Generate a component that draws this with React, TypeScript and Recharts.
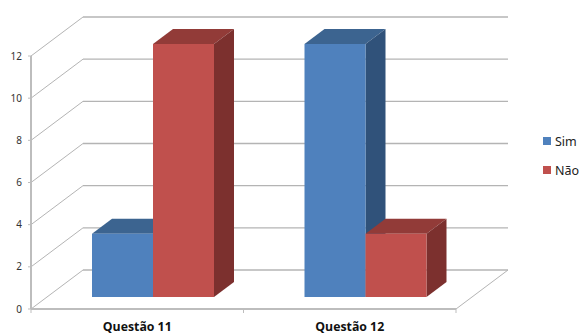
import React from "react";
import { BarChart, Bar, CartesianGrid, XAxis, YAxis, Legend } from "recharts";

const questions = ["Questão 11", "Questão 12"];
const simValues = [3, 12];
const naoValues = [12, 3];
const yTicks = [0, 2, 4, 6, 8, 10, 12];
const seriesNames = ["Sim", "Não"];

const chartWidth = 579;
const chartHeight = 336;
const legendWidth = 36;
const plot = { left: 31, right: 123, top: 56, bottom: 27 };
const bandHalf = (chartWidth - plot.left - plot.right) / questions.length / 2;

// oblique projection: back wall offset, and where the bars sit inside the floor
const wall = { dx: 52, dy: -39 };
const barPlane = { dx: 16, dy: -12 };
const barDepth = { dx: 20, dy: -15 };

const gridColor = "#b4b4b4";
const axisColor = "#bdbdbd";

const data = questions.map((name, i) => ({ name, sim: simValues[i], nao: naoValues[i] }));

const shadedBar = (front: string, top: string, side: string) => (props: any) => {
  const x = props.x + barPlane.dx;
  const y = props.y + barPlane.dy;
  const { width, height } = props;
  const { dx, dy } = barDepth;
  return (
    <g>
      <polygon
        points={`${x},${y} ${x + dx},${y + dy} ${x + width + dx},${y + dy} ${x + width},${y}`}
        fill={top}
      />
      <polygon
        points={`${x + width},${y} ${x + width + dx},${y + dy} ${x + width + dx},${y + height + dy} ${x + width},${y + height}`}
        fill={side}
      />
      <rect x={x} y={y} width={width} height={height} fill={front} />
    </g>
  );
};

const WallLine = (props: any) => {
  const { x1, x2, y1, index } = props;
  const isFloor = y1 >= chartHeight - plot.bottom - 0.5;
  return (
    <g key={`wall-${index}`}>
      <line x1={x1} y1={y1} x2={x1 + wall.dx} y2={y1 + wall.dy} stroke={gridColor} strokeWidth={1} />
      <line
        x1={x1 + wall.dx}
        y1={y1 + wall.dy}
        x2={x2 + wall.dx}
        y2={y1 + wall.dy}
        stroke={gridColor}
        strokeWidth={1.4}
      />
      {isFloor && (
        <line x1={x2} y1={y1} x2={x2 + wall.dx} y2={y1 + wall.dy} stroke={gridColor} strokeWidth={1} />
      )}
    </g>
  );
};

// category labels, plus the tick marks on the band edges
const QuestionTick = (props: any) => {
  const { x, payload } = props;
  const axisY = chartHeight - plot.bottom;
  return (
    <g>
      <line x1={x - bandHalf} y1={axisY} x2={x - bandHalf} y2={axisY + 4} stroke={axisColor} />
      <line x1={x + bandHalf} y1={axisY} x2={x + bandHalf} y2={axisY + 4} stroke={axisColor} />
      <text
        x={x}
        y={axisY + 22}
        textAnchor="middle"
        fontFamily="'Open Sans', sans-serif"
        fontWeight={700}
        fontSize={12.3}
        fill="#111"
      >
        {payload.value}
      </text>
    </g>
  );
};

const SideLegend = ({ payload }: any) => (
  <div>
    {(payload || []).map((entry: any) => (
      <div
        key={entry.value}
        style={{ display: "flex", alignItems: "center", height: 29, fontFamily: "'Noto Sans', sans-serif", fontSize: 12.5, color: "#222" }}
      >
        <span style={{ width: 8, height: 8, background: entry.color, marginRight: 4 }} />
        {entry.value}
      </div>
    ))}
  </div>
);

export default function App() {
  return (
    <div style={{ position: "absolute", left: 0, top: 0, width: chartWidth, height: chartHeight, background: "#fff" }}>
      <BarChart
        width={chartWidth}
        height={chartHeight}
        data={data}
        barGap={0}
        barCategoryGap={45}
        margin={{ top: plot.top, right: plot.right - legendWidth, bottom: 0, left: 0 }}
      >
        <CartesianGrid vertical={false} horizontal={WallLine as any} />
        <XAxis
          dataKey="name"
          height={plot.bottom}
          axisLine={{ stroke: axisColor, strokeWidth: 2 }}
          tickLine={false}
          tick={<QuestionTick />}
          interval={0}
        />
        <YAxis
          width={plot.left}
          domain={[0, 12]}
          ticks={yTicks}
          interval={0}
          axisLine={{ stroke: axisColor, strokeWidth: 2 }}
          tickLine={{ stroke: axisColor }}
          tickSize={3}
          tickMargin={6}
          tick={{ fontFamily: "'Noto Sans', sans-serif", fontSize: 10, fill: "#333" }}
        />
        <Legend
          layout="vertical"
          align="right"
          verticalAlign="middle"
          width={legendWidth}
          itemSorter={(item: any) => seriesNames.indexOf(item.value)}
          content={<SideLegend />}
          wrapperStyle={{ position: "absolute", left: 543, top: 126.5, right: "auto", bottom: "auto" }}
        />
        <Bar
          dataKey="sim"
          name="Sim"
          fill="#4f81bd"
          isAnimationActive={false}
          shape={shadedBar("#4f81bd", "#3c6490", "#30527a")}
        />
        <Bar
          dataKey="nao"
          name="Não"
          fill="#c0504d"
          isAnimationActive={false}
          shape={shadedBar("#c0504d", "#923b38", "#7c302e")}
        />
      </BarChart>
    </div>
  );
}
